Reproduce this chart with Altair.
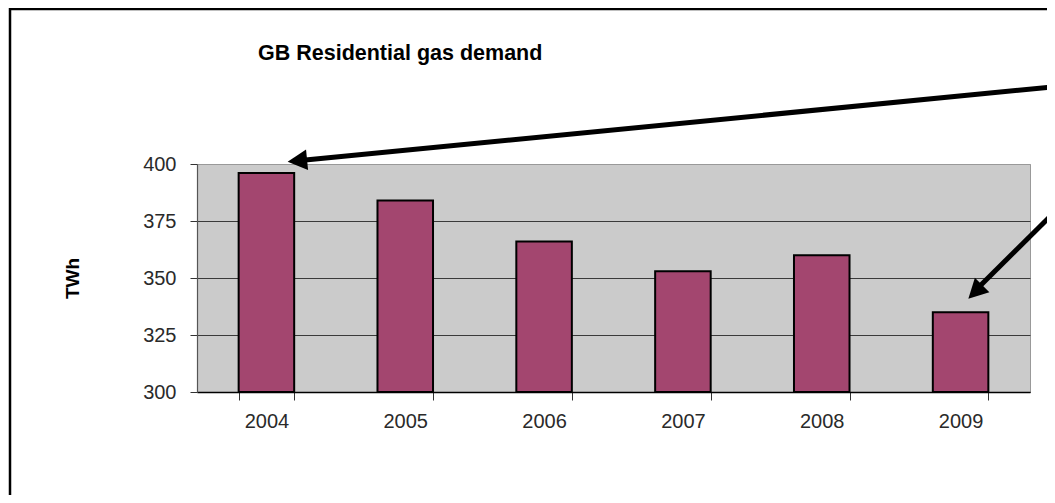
import altair as alt
import pandas as pd

# ---- data ----
years = ["2004", "2005", "2006", "2007", "2008", "2009"]
demand_twh = [396, 384, 366, 353, 360, 335]

chart_title = ["GB Residential gas demand"]
y_title = "TWh"
y_ticks = [300, 325, 350, 375, 400]

# annotation arrows: x in category slots (0..6 across the plot), y in TWh
arrow_start_x = [6.18, 6.22]
arrow_start_y = [433.9, 381.6]
arrow_end_x = [0.725, 5.605]
arrow_end_y = [401.4, 344.4]
arrow_tip_x = [0.653, 5.556]
arrow_tip_y = [401.0, 340.9]
arrow_angle = [264.3, 225.0]

FONT = "Liberation Sans"
W, H = 833, 228

bars_df = pd.DataFrame({"year": years, "twh": demand_twh})
arrows_df = pd.DataFrame({
    "sx": arrow_start_x, "sy": arrow_start_y,
    "ex": arrow_end_x, "ey": arrow_end_y,
    "tx": arrow_tip_x, "ty": arrow_tip_y,
    "ang": arrow_angle,
})
title_df = pd.DataFrame({"t": chart_title})

y_scale = alt.Scale(domain=[300, 400], nice=False, zero=False)
slot_scale = alt.Scale(domain=[0, 6], nice=False, zero=False)

border = alt.Chart(title_df).mark_rect(
    fillOpacity=0, stroke="black", strokeWidth=2.5
).encode(
    x=alt.value(-187), x2=alt.value(873), y=alt.value(-155), y2=alt.value(356)
)

bars = alt.Chart(bars_df).mark_bar(
    color="#A3466F", stroke="black", strokeWidth=2
).encode(
    x=alt.X(
        "year:N", title=None,
        scale=alt.Scale(paddingInner=0.6, paddingOuter=0.3),
        axis=alt.Axis(
            labelAngle=0, tickBand="extent", tickSize=8, labelPadding=11,
            labelFontSize=20, labelFont=FONT, labelColor="#2a2a2a",
            domainColor="black", domainWidth=1.5, tickColor="#333333",
            grid=False,
        ),
    ),
    y=alt.Y(
        "twh:Q", scale=y_scale,
        axis=alt.Axis(
            values=y_ticks, title=y_title, titleFont=FONT, titleFontSize=19,
            titleFontWeight="bold", titleColor="black", titleX=-124.5,
            titleY=H / 2, titleBaseline="middle", titleAlign="center",
            labelFontSize=20, labelFont=FONT, labelColor="#2a2a2a",
            labelPadding=14, tickSize=7, tickColor="#333333",
            domainColor="#555555", domainWidth=1.2,
            grid=True, gridWidth=1,
            gridColor={"condition": {"test": "datum.value == 400", "value": "#999999"},
                       "value": "#3a3a3a"},
        ),
    ),
    y2=alt.datum(300),
)

shafts = alt.Chart(arrows_df).mark_rule(color="black", strokeWidth=5).encode(
    x=alt.X("sx:Q", scale=slot_scale, axis=None),
    x2="ex:Q",
    y=alt.Y("sy:Q", scale=y_scale, axis=None),
    y2="ey:Q",
)

heads = alt.Chart(arrows_df).mark_point(
    shape="M0,0L-1.05,2L1.05,2Z", filled=True, size=380, color="black",
    opacity=1, strokeWidth=0,
).encode(
    x=alt.X("tx:Q", scale=slot_scale, axis=None),
    y=alt.Y("ty:Q", scale=y_scale, axis=None),
    angle=alt.Angle("ang:Q", scale=None),
)

title = alt.Chart(title_df).mark_text(
    align="left", baseline="alphabetic", font=FONT, fontSize=21.5,
    fontWeight="bold", color="black",
).encode(
    text="t:N", x=alt.value(61), y=alt.value(-104)
)

chart = alt.layer(border, bars, shafts, heads, title).resolve_scale(
    x="independent", y="independent"
).properties(
    width=W, height=H,
    autosize=alt.AutoSizeParams(type="none"),
    padding={"left": 189, "top": 156, "right": 17, "bottom": 103},
    background="white",
).configure_view(
    fill="#CBCBCB", stroke="#999999", strokeWidth=1
)

chart.save("out.html", embed_options={"renderer": "svg", "actions": False})
